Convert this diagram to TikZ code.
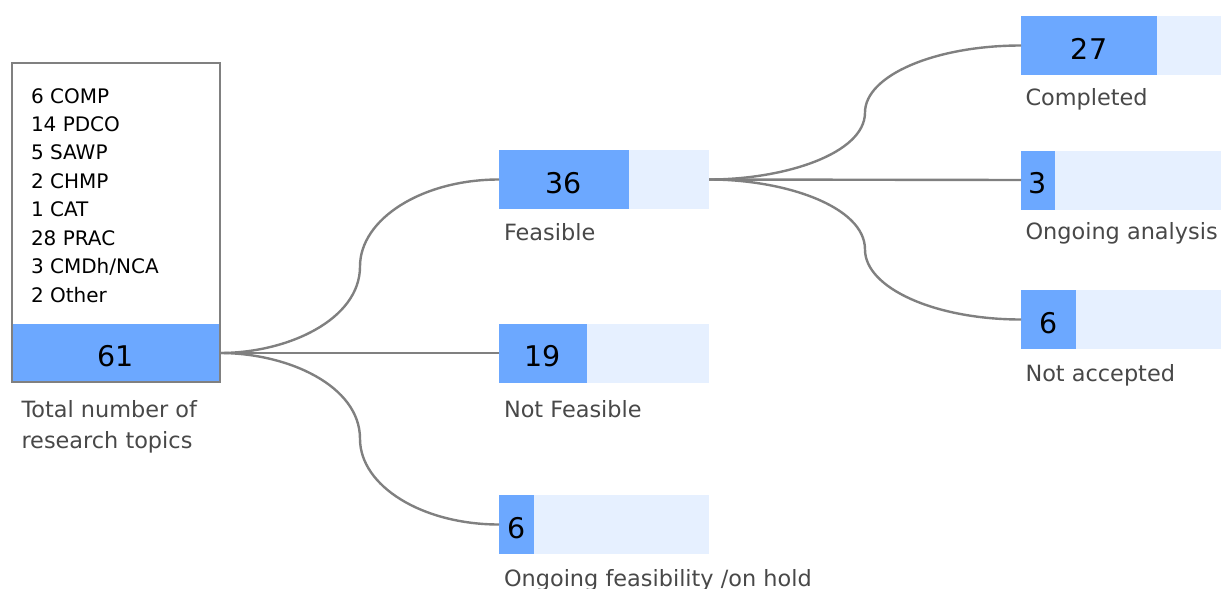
\documentclass[tikz,border=0pt]{standalone}
\usepackage{fontspec}
\setmainfont{DejaVu Sans}
\definecolor{barblue}{RGB}{108,168,255}
\definecolor{lightblue}{RGB}{230,240,255}
\definecolor{linkgray}{RGB}{128,128,128}
\definecolor{labgray}{RGB}{72,72,72}
\newcommand\numfont{\fontsize{28.5}{32}\selectfont}
\newcommand\labfont{\fontsize{22.4}{31}\selectfont}
\newcommand\listfont{\fontsize{20}{28}\selectfont}
\tikzset{
  lightbar/.style={fill=lightblue, minimum width=210pt, minimum height=59pt, inner sep=0pt, outer sep=0pt, anchor=west},
  bluebar/.style={fill=barblue, minimum height=59pt, inner sep=0pt, outer sep=0pt, anchor=west, font=\numfont, text height=27pt, text depth=0pt},
  lab/.style={anchor=base west, inner sep=0pt, outer sep=0pt, font=\labfont, text=labgray},
  listtxt/.style={anchor=base west, inner sep=0pt, outer sep=0pt, font=\listfont, text=black},
  link/.style={draw=linkgray, line width=2.4pt},
  totbox/.style={draw=linkgray, line width=2pt, minimum width=208pt, minimum height=319pt, inner sep=0pt, outer sep=0pt},
  totblue/.style={fill=barblue, minimum width=206pt, minimum height=58pt, inner sep=0pt, outer sep=0pt, font=\numfont, text height=27pt, text depth=0pt}
}
\begin{document}
\begin{tikzpicture}[x=1pt,y=-1pt]
\useasboundingbox (0,0) rectangle (1221,589);

% left box
\node[totblue] (totb) at (116,353) {61};
\node[totbox] (tot) at (116,222.5) {};
\foreach \t [count=\i] in {6 COMP,14 PDCO,5 SAWP,2 CHMP,1 CAT,28 PRAC,3 CMDh/NCA,2 Other}
  \node[listtxt] (l\i) at (31,{103+28.43*(\i-1)}) {\t};
\node[lab] (t1) at (21.5,417) {Total number of};
\node[lab] (t2) at (21.5,448) {research topics};

% middle column
\node[lightbar] (f) at (499,179.5) {};
\node[bluebar, minimum width=130pt] (fb) at (f.west) {36};
\node[lab] (fl) at (504,240) {Feasible};

\node[lightbar] (n) at (499,353) {};
\node[bluebar, minimum width=88pt] (nb) at (n.west) {19};
\node[lab] (nl) at (504,417) {Not Feasible};

\node[lightbar] (o) at (499,524.5) {};
\node[bluebar, minimum width=35pt] (ob) at (o.west) {6};
\node[lab] (ol) at (504,586) {Ongoing feasibility /on hold};

% right column
\node[lightbar] (c) at (1021,45.5) {};
\node[bluebar, minimum width=136pt] (cb) at (c.west) {27};
\node[lab] (cl) at (1025.5,105) {Completed};

\node[lightbar] (a) at (1021,180) {};
\node[bluebar, minimum width=34pt] (ab) at (a.west) {3};
\node[lab] (al) at (1025.5,239) {Ongoing analysis};

\node[lightbar] (r) at (1021,319.5) {};
\node[bluebar, minimum width=55pt] (rb) at (r.west) {6};
\node[lab] (rl) at (1025.5,381) {Not accepted};

% connectors level 1
\coordinate (s1) at (tot.east |- totb.center);
\coordinate (m1) at (360,266.5);
\coordinate (m3) at (360,438.8);
\draw[link] (s1) .. controls +(68,0) and +(0,53) .. (m1) .. controls +(0,-47.7) and +(-76.7,0) .. (fb.west);
\draw[link] (s1) -- (nb.west);
\draw[link] (s1) .. controls +(68,0) and +(0,-53) .. (m3) .. controls +(0,47.3) and +(-76.7,0) .. (ob.west);

% connectors level 2
\coordinate (s2) at (f.east);
\coordinate (m4) at (865,112.5);
\coordinate (m5) at (865,249.5);
\draw[link] (s2) .. controls +(76,0) and +(0,41) .. (m4) .. controls +(0,-37) and +(-86.1,0) .. (cb.west);
\draw[link] (s2) -- (ab.west);
\draw[link] (s2) .. controls +(76,0) and +(0,-43) .. (m5) .. controls +(0,38.5) and +(-86.1,0) .. (rb.west);
\end{tikzpicture}
\end{document}
